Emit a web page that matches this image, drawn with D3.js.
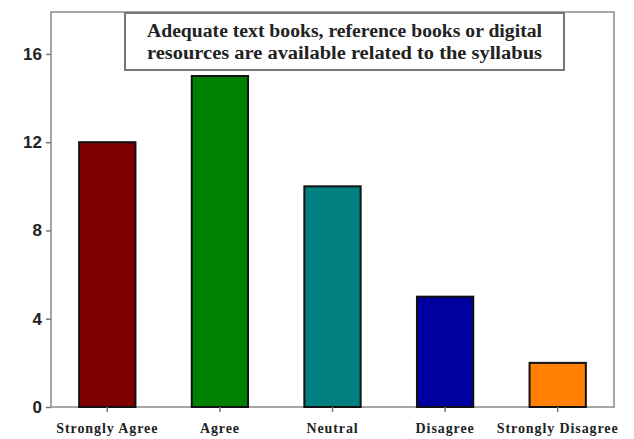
<!DOCTYPE html>
<html>
<head>
<meta charset="utf-8">
<script src="https://cdn.jsdelivr.net/npm/d3@7"></script>
<style>
  body { margin: 0; background: #fff; }
  svg { display: block; }
</style>
</head>
<body>
<svg id="chart" width="634" height="439"></svg>
<script>
const categories = ["Strongly Agree", "Agree", "Neutral", "Disagree", "Strongly Disagree"];
const values = [12, 15, 10, 5, 2];
const barColors = ["#800000", "#008000", "#008080", "#0000a0", "#ff8000"];
const yTicks = [0, 4, 8, 12, 16];
const titleLines = [
  "Adequate text books, reference books or digital",
  "resources are available related to the syllabus"
];

const svg = d3.select("#chart");
const margin = { top: 12, right: 20, bottom: 32, left: 51 };
const width = 634 - margin.left - margin.right;
const height = 439 - margin.top - margin.bottom;

const g = svg.append("g").attr("transform", `translate(${margin.left},${margin.top})`);

const x = d3.scaleBand()
    .domain(categories)
    .range([0, width])
    .paddingInner(0.5)
    .paddingOuter(0.25);

const y = d3.scaleLinear()
    .domain([0, 17.9])
    .range([height, 0]);

// plot frame
g.append("rect")
    .attr("x", 0).attr("y", 0)
    .attr("width", width).attr("height", height)
    .attr("fill", "none")
    .attr("stroke", "#8a8a8a")
    .attr("stroke-width", 1.5);

// bars
g.selectAll(".bar")
    .data(values)
    .enter()
    .append("rect")
    .attr("class", "bar")
    .attr("x", (d, i) => x(categories[i]))
    .attr("y", d => y(d))
    .attr("width", x.bandwidth())
    .attr("height", d => height - y(d))
    .attr("fill", (d, i) => barColors[i])
    .attr("stroke", "#111")
    .attr("stroke-width", 2);

// y axis
const yAxis = g.append("g")
    .call(d3.axisLeft(y).tickValues(yTicks).tickSize(5).tickPadding(4).tickFormat(d3.format("d")));
yAxis.select(".domain").remove();
yAxis.selectAll("line").attr("stroke", "#777").attr("stroke-width", 1.5);
yAxis.selectAll("text")
    .attr("fill", "#222")
    .style("font-family", "'Liberation Sans', Arial, sans-serif")
    .style("font-weight", "bold")
    .style("font-size", "17px");

// x axis
const xAxis = g.append("g")
    .attr("transform", `translate(0,${height})`)
    .call(d3.axisBottom(x).tickSize(5).tickPadding(11));
xAxis.select(".domain").remove();
xAxis.selectAll("line").attr("stroke", "#777").attr("stroke-width", 1.5);
xAxis.selectAll("text")
    .attr("fill", "#222")
    .style("font-family", "'Liberation Serif', 'Times New Roman', serif")
    .style("font-weight", "bold")
    .style("font-size", "14px")
    .style("letter-spacing", "0.9px");

// title box
const box = { x: 125, y: 13, w: 439, h: 57 };
svg.append("rect")
    .attr("x", box.x).attr("y", box.y)
    .attr("width", box.w).attr("height", box.h)
    .attr("fill", "#fff")
    .attr("stroke", "#777")
    .attr("stroke-width", 2);

svg.append("text")
    .attr("x", box.x + 22)
    .attr("y", box.y + 24)
    .style("font-family", "'Liberation Serif', 'Times New Roman', serif")
    .style("font-weight", "bold")
    .style("font-size", "18px")
    .attr("fill", "#222")
    .selectAll("tspan")
    .data(titleLines)
    .enter()
    .append("tspan")
    .attr("x", box.x + 22)
    .attr("dy", (d, i) => i === 0 ? 0 : 22)
    .attr("textLength", 395)
    .attr("lengthAdjust", "spacingAndGlyphs")
    .text(d => d);
</script>
</body>
</html>
